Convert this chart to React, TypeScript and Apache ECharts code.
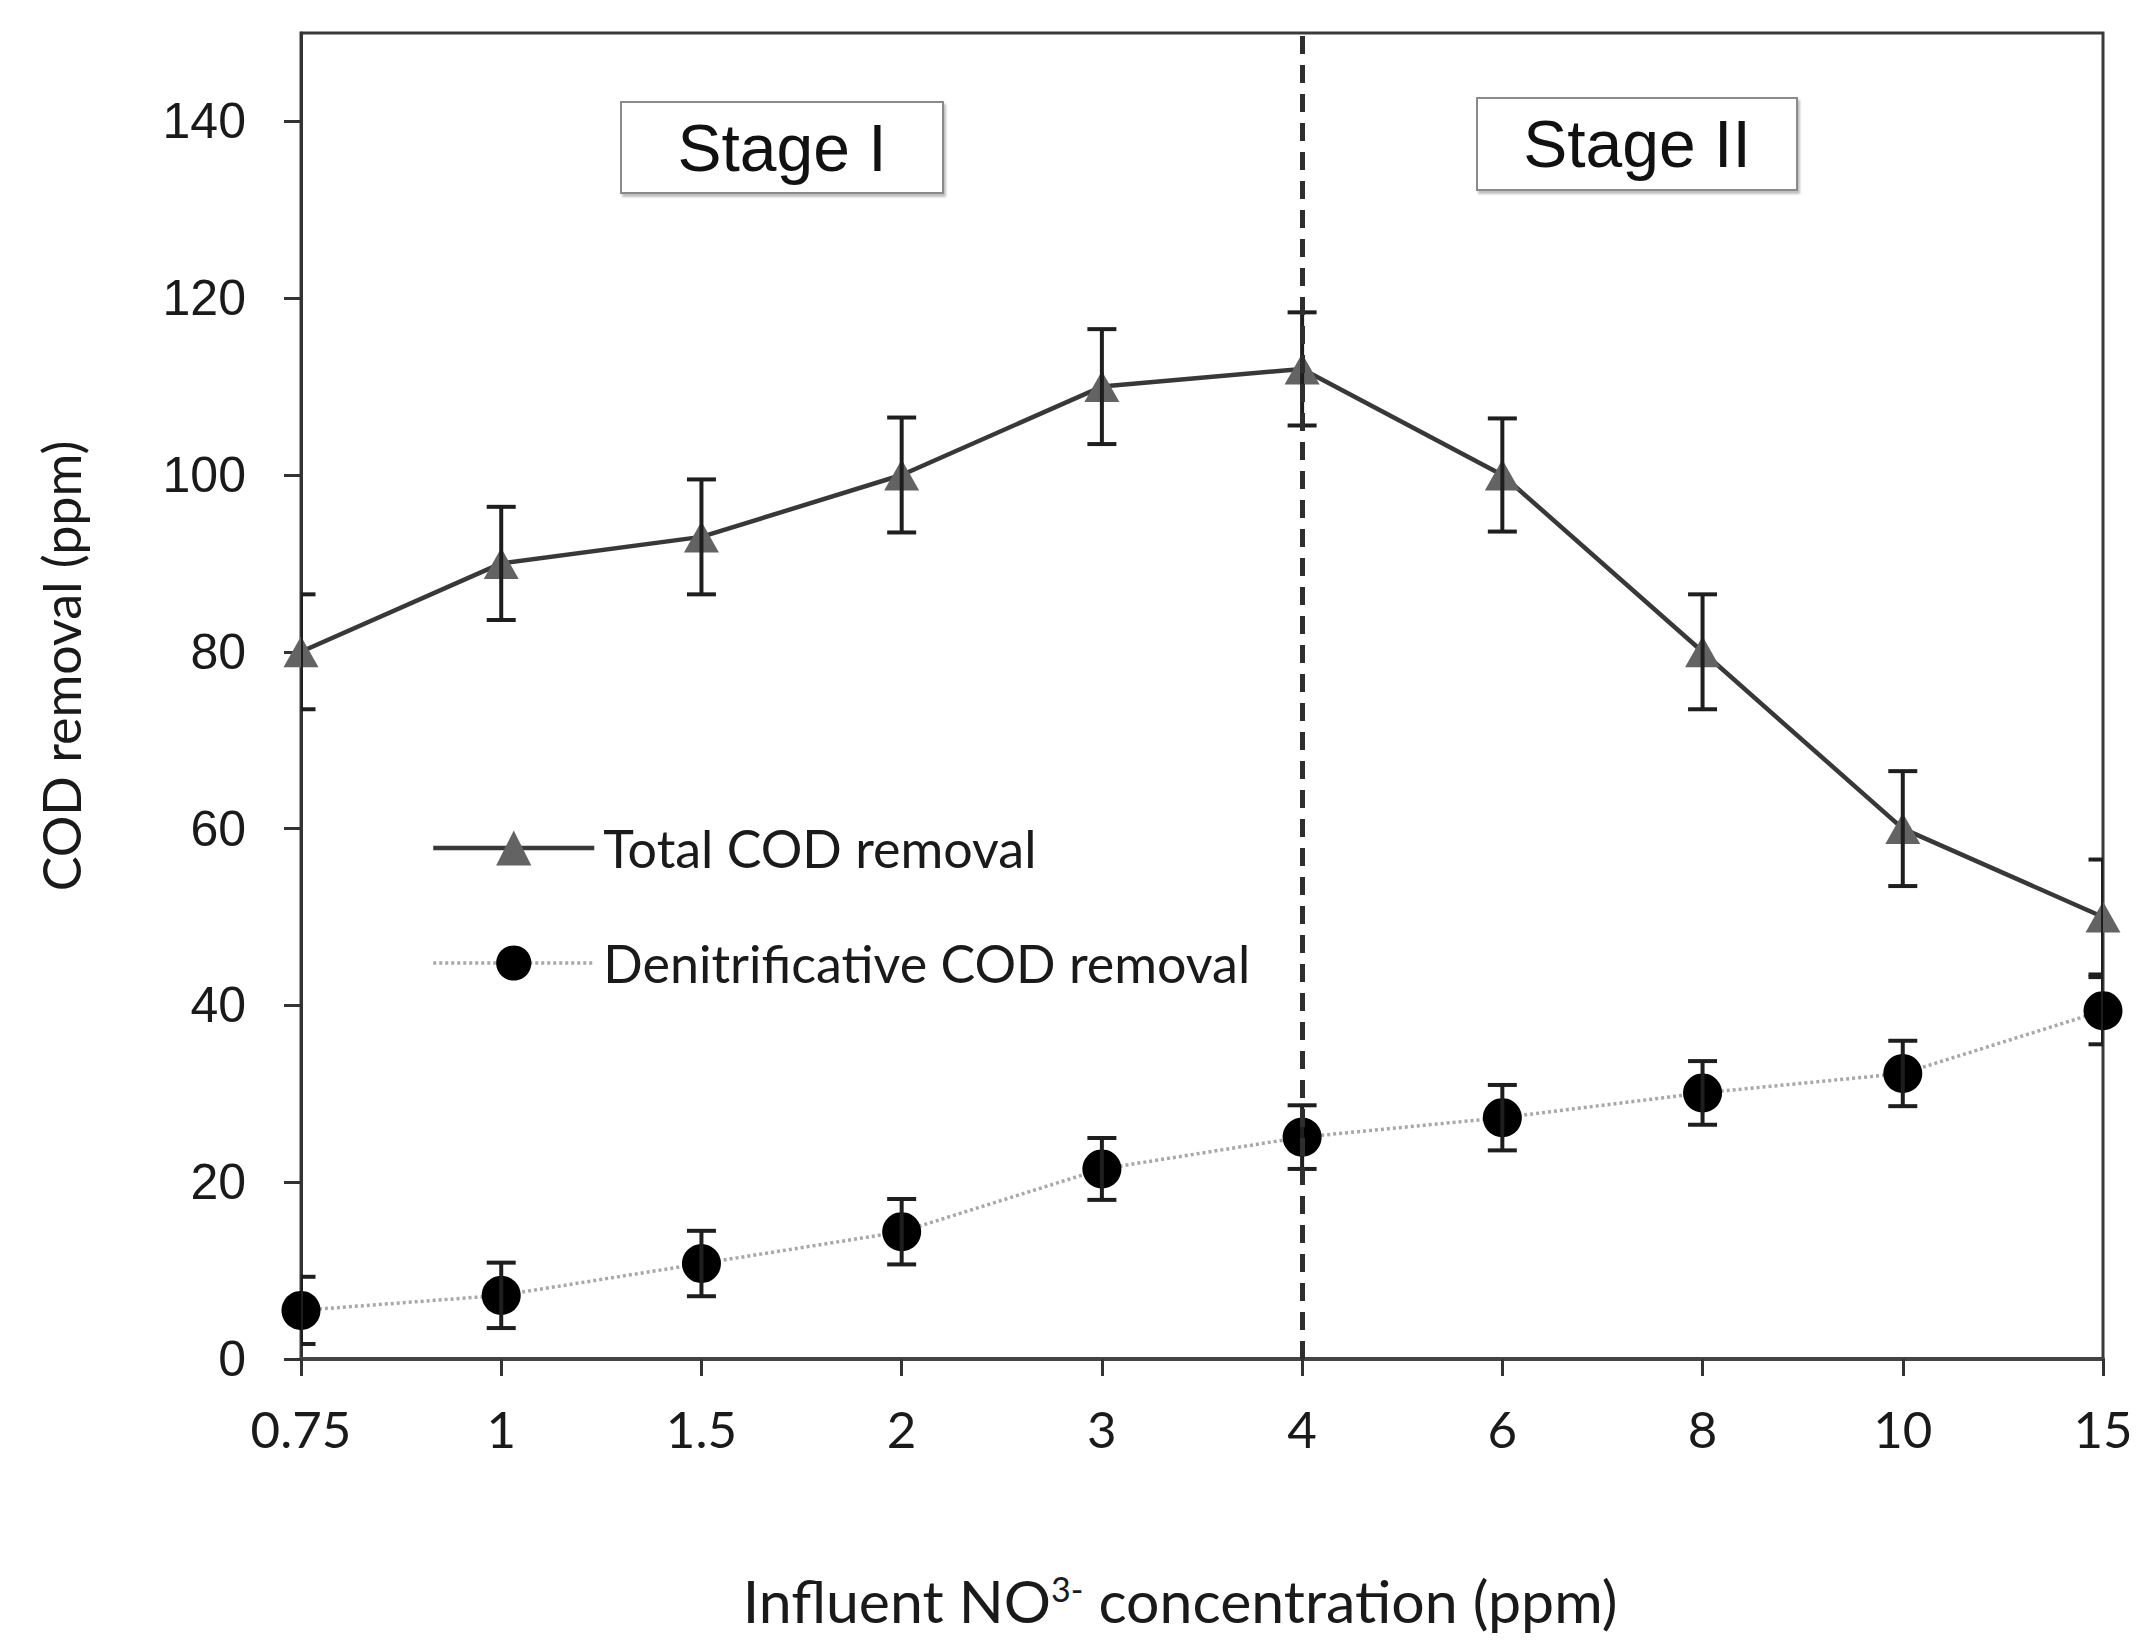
import React, { useEffect, useRef } from "react";
import * as echarts from "echarts";

const categories = ["0.75", "1", "1.5", "2", "3", "4", "6", "8", "10", "15"];
const totalCOD = [80, 90, 93, 100, 110, 112, 100, 80, 60, 50];
const totalErr = [6.5, 6.4, 6.5, 6.5, 6.5, 6.4, 6.4, 6.5, 6.5, 6.5];
const denitCOD = [5.5, 7.2, 10.8, 14.4, 21.5, 25.1, 27.3, 30.1, 32.3, 39.4];
const denitErr = [3.8, 3.7, 3.7, 3.7, 3.5, 3.6, 3.7, 3.6, 3.7, 3.8];
const yTicks = [0, 20, 40, 60, 80, 100, 120, 140];
const yMax = 150;
const stageBoundary = "4";
const seriesNames = ["Total COD removal", "Denitrificative COD removal"];
const stageLabels = ["Stage I", "Stage II"];

const CAL = "Lato, 'Open Sans', sans-serif";
const ARIAL = "'Liberation Sans', Arial, sans-serif";

function errorBarSeries(values: number[], errs: number[]) {
  return {
    type: "custom",
    silent: true,
    clip: true,
    z: 4,
    encode: { x: 0, y: [1, 2] },
    data: values.map((v, i) => [i, v - errs[i], v + errs[i]]),
    renderItem: (params: any, api: any) => {
      const lo = api.coord([api.value(0), api.value(1)]);
      const hi = api.coord([api.value(0), api.value(2)]);
      const hw = 14.5;
      const style = { stroke: "#1e1e1e", lineWidth: 4 };
      return {
        type: "group",
        children: [
          { type: "line", shape: { x1: lo[0], y1: lo[1], x2: hi[0], y2: hi[1] }, style },
          { type: "line", shape: { x1: lo[0] - hw, y1: lo[1], x2: lo[0] + hw, y2: lo[1] }, style },
          { type: "line", shape: { x1: hi[0] - hw, y1: hi[1], x2: hi[0] + hw, y2: hi[1] }, style },
        ],
      };
    },
  };
}

function stageBox(x: number, y: number, w: number, h: number, label: string) {
  return {
    type: "group",
    x,
    y,
    children: [
      {
        type: "rect",
        shape: { x: 0, y: 0, width: w, height: h },
        style: {
          fill: "#fff",
          stroke: "#8a8a8a",
          lineWidth: 2,
          shadowColor: "rgba(0,0,0,0.25)",
          shadowOffsetX: 2,
          shadowOffsetY: 3,
          shadowBlur: 2,
        },
      },
      {
        type: "text",
        x: w / 2,
        y: h / 2,
        style: {
          text: label,
          fontFamily: ARIAL,
          fontSize: 66,
          fill: "#111",
          align: "center",
          verticalAlign: "middle",
        },
      },
    ],
  };
}

export default function App() {
  const ref = useRef<HTMLDivElement>(null);
  useEffect(() => {
    if (!ref.current) return;
    const chart = echarts.init(ref.current, undefined, { renderer: "svg" });
    const option: any = {
      animation: false,
      backgroundColor: "#ffffff",
      grid: {
        left: 301,
        right: 42,
        top: 33,
        bottom: 289,
        show: true,
        borderColor: "#3a3a3a",
        borderWidth: 3,
        backgroundColor: "transparent",
      },
      legend: {
        orient: "vertical",
        left: 426,
        top: 817,
        itemWidth: 161,
        itemHeight: 44,
        itemGap: 63,
        data: seriesNames,
        selectedMode: false,
        lineStyle: { width: "inherit" },
        textStyle: {
          fontFamily: CAL,
          fontSize: 52,
          color: "#1a1a1a",
          padding: [0, 0, 0, 4],
        },
      },
      xAxis: {
        type: "category",
        data: categories,
        boundaryGap: false,
        name: "Influent NO{sup|3-} concentration (ppm)",
        nameLocation: "middle",
        nameGap: 212,
        nameTextStyle: {
          fontFamily: CAL,
          fontSize: 59,
          color: "#1a1a1a",
          padding: [0, 44, 0, 0],
          rich: {
            sup: {
              fontFamily: CAL,
              fontSize: 34,
              color: "#1a1a1a",
              verticalAlign: "top",
              padding: [0, 0, 24, 0],
            },
          },
        },
        axisLine: { show: true, lineStyle: { color: "#444", width: 4 } },
        axisTick: { show: true, inside: false, length: 17, alignWithLabel: true, lineStyle: { color: "#333", width: 3 } },
        axisLabel: {
          fontFamily: CAL,
          fontSize: 51,
          color: "#1a1a1a",
          margin: 44,
          interval: 0,
        },
        splitLine: { show: false },
      },
      yAxis: {
        type: "value",
        min: 0,
        max: yMax,
        interval: 20,
        name: "COD removal (ppm)",
        nameLocation: "middle",
        nameRotate: 90,
        nameGap: 214,
        nameTextStyle: {
          fontFamily: CAL,
          fontSize: 52,
          color: "#1a1a1a",
          padding: [0, 0, 0, 60],
        },
        axisLine: { show: true, lineStyle: { color: "#333", width: 3 } },
        axisTick: { show: true, inside: false, length: 17, customValues: yTicks, lineStyle: { color: "#333", width: 3 } },
        axisLabel: {
          fontFamily: ARIAL,
          fontSize: 50,
          color: "#1a1a1a",
          margin: 55,
          customValues: yTicks,
        },
        splitLine: { show: false },
      },
      graphic: [
        stageBox(621, 102, 322, 91, stageLabels[0]),
        stageBox(1477, 98, 320, 92, stageLabels[1]),
      ],
      series: [
        {
          name: seriesNames[0],
          type: "line",
          data: totalCOD,
          clip: false,
          z: 3,
          symbol: "triangle",
          symbolSize: [35, 31],
          itemStyle: { color: "#636363" },
          lineStyle: { color: "#383838", width: 4.5 },
          markLine: {
            silent: true,
            symbol: "none",
            label: { show: false },
            lineStyle: { type: [18, 11], color: "#2e2e2e", width: 5 },
            data: [{ xAxis: stageBoundary }],
          },
        },
        {
          name: seriesNames[1],
          type: "line",
          data: denitCOD,
          clip: false,
          z: 3,
          symbol: "circle",
          symbolSize: 39,
          itemStyle: { color: "#000" },
          lineStyle: { color: "#a8a8a8", width: 3.5, type: [3, 3] },
        },
        errorBarSeries(totalCOD, totalErr),
        errorBarSeries(denitCOD, denitErr),
      ],
    };
    chart.setOption(option);
    return () => chart.dispose();
  }, []);
  return (
    <div
      ref={ref}
      style={{ position: "fixed", left: 0, top: 0, width: 2145, height: 1648, background: "#fff" }}
    />
  );
}
